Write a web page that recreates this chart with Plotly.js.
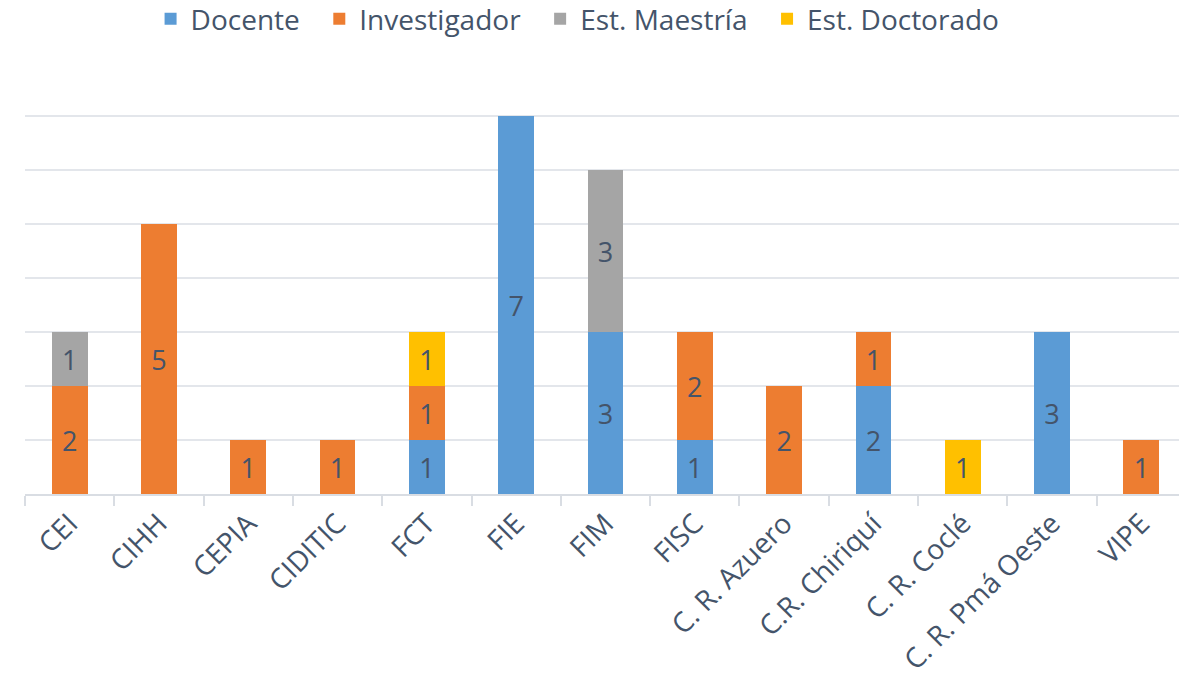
<!DOCTYPE html>
<html>
<head>
<meta charset="utf-8">
<script src="https://cdn.plot.ly/plotly-3.0.1.min.js"></script>
<style>html,body{margin:0;padding:0;background:#fff;overflow:hidden;}#chart{width:1186px;height:680px;}</style>
</head>
<body>
<div id="chart"></div>
<script>
const categories = ["CEI","CIHH","CEPIA","CIDITIC","FCT","FIE","FIM","FISC","C. R. Azuero","C.R. Chiriquí","C. R. Coclé","C. R. Pmá Oeste","VIPE"];
const docente      = [null,null,null,null,1,7,3,1,null,2,null,3,null];
const investigador = [2,5,1,1,1,null,null,2,2,1,null,null,1];
const estMaestria  = [1,null,null,null,null,null,3,null,null,null,null,null,null];
const estDoctorado = [null,null,null,null,1,null,null,null,null,null,1,null,null];
const seriesNames  = ["Docente","Investigador","Est. Maestría","Est. Doctorado"];
const seriesColors = ["#5b9bd5","#ed7d31","#a5a5a5","#ffc000"];
const seriesValues = [docente, investigador, estMaestria, estDoctorado];

const fontFam = "Open Sans, Noto Sans, sans-serif";
const txtColor = "#44546a";
const pad = "\u00a0\u00a0";

const traces = seriesValues.map((vals, i) => ({
  type: "bar",
  name: seriesNames[i] + (i < seriesNames.length - 1 ? pad : ""),
  x: categories,
  y: vals,
  text: vals.map(v => v == null ? "" : String(v)),
  textposition: "inside",
  insidetextanchor: "middle",
  textangle: 0,
  constraintext: "none",
  textfont: {family: fontFam, size: 27, color: txtColor},
  marker: {color: seriesColors[i], line: {width: 0}},
  hoverinfo: "x+y"
}));

const layout = {
  width: 1186,
  height: 680,
  barmode: "stack",
  bargap: 0.6,
  paper_bgcolor: "#ffffff",
  plot_bgcolor: "#ffffff",
  margin: {l: 25, r: 0, t: 62, b: 186, autoexpand: false},
  font: {family: fontFam, color: txtColor},
  showlegend: true,
  legend: {
    orientation: "h",
    xref: "container", yref: "container",
    x: 0.487, xanchor: "center",
    y: 0.972, yanchor: "middle",
    font: {family: fontFam, size: 28, color: txtColor},
    itemwidth: 30,
    traceorder: "normal",
    bgcolor: "rgba(0,0,0,0)"
  },
  xaxis: {
    type: "category",
    tickangle: -45,
    tickfont: {family: fontFam, size: 28, color: txtColor},
    showline: true,
    linecolor: "#d9dde3",
    linewidth: 2,
    ticks: "outside",
    tickson: "boundaries",
    ticklen: 10,
    tickwidth: 2,
    tickcolor: "#d9dde3",
    showgrid: false,
    fixedrange: true
  },
  yaxis: {
    range: [0, 8],
    dtick: 1,
    showticklabels: false,
    showgrid: true,
    gridcolor: "#e3e6eb",
    gridwidth: 2,
    zeroline: false,
    showline: false,
    ticks: "",
    fixedrange: true
  }
};

Plotly.newPlot("chart", traces, layout, {displayModeBar: false, staticPlot: true});
</script>
</body>
</html>
